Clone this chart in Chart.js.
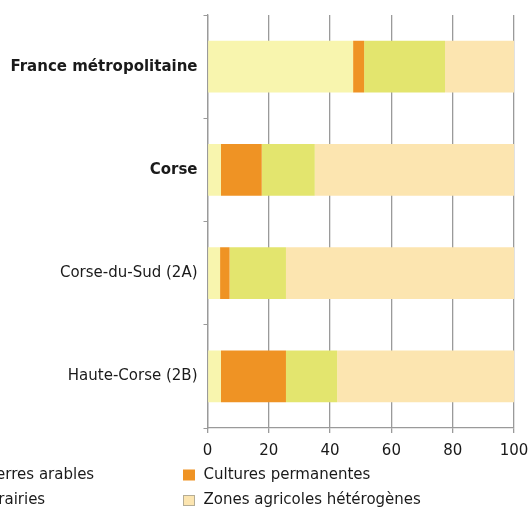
<!DOCTYPE html>
<html><head><meta charset="utf-8">
<script src="https://cdn.jsdelivr.net/npm/chart.js@4/dist/chart.umd.min.js"></script>
<style>html,body{margin:0;padding:0;background:#fff;}#wrap{width:529px;height:509px;position:relative;}</style>
</head><body><div id="wrap"><canvas id="c" width="529" height="509"></canvas></div>
<script>
const categories = ["France métropolitaine", "Corse", "Corse-du-Sud (2A)", "Haute-Corse (2B)"];
const boldCategories = ["France métropolitaine", "Corse"];
const terresArables = [47.5, 4.4, 4.1, 4.4];
const culturesPermanentes = [3.6, 13.3, 3.1, 21.2];
const prairies = [26.4, 17.3, 18.4, 16.7];
const zonesHeterogenes = [22.5, 65.0, 74.4, 57.7];
const xTicks = [0, 20, 40, 60, 80, 100];
const seriesNames = ["Terres arables", "Cultures permanentes", "Prairies", "Zones agricoles hétérogènes"];
const seriesColors = ["#f8f5ae", "#ef9324", "#e3e56e", "#fce5b0"];

const FONT = "'DejaVu Sans', 'Liberation Sans', Arial, sans-serif";

const legendPlugin = {
  id: 'customLegend',
  afterDraw(chart) {
    const ctx = chart.ctx;
    ctx.save();
    ctx.font = "15px " + FONT;
    ctx.textBaseline = 'middle';
    const cols = [-31, 183];
    const rows = [475, 500.5];
    const order = [[0,0,0],[1,1,0],[2,0,1],[3,1,1]];
    order.forEach(([i, c, r]) => {
      const x = cols[c], y = rows[r];
      ctx.fillStyle = seriesColors[i];
      ctx.fillRect(x, y - 5.5, 12, 11);
      if (i === 3) { ctx.strokeStyle = '#b5ad95'; ctx.lineWidth = 1; ctx.strokeRect(x + 0.5, y - 5, 11, 10); }
      ctx.fillStyle = '#1a1a1a';
      ctx.fillText(seriesNames[i], x + 20.5, y);
    });
    ctx.restore();
  }
};

const data = [terresArables, culturesPermanentes, prairies, zonesHeterogenes];
new Chart(document.getElementById('c'), {
  type: 'bar',
  data: {
    labels: categories,
    datasets: seriesNames.map((n, i) => ({
      label: n, data: data[i], backgroundColor: seriesColors[i], borderWidth: 0,
      barPercentage: 1.0, categoryPercentage: 0.5
    }))
  },
  options: {
    indexAxis: 'y',
    responsive: false,
    animation: false,
    layout: { padding: { left: 0, right: 0, top: 12, bottom: 46 } },
    plugins: { legend: { display: false }, tooltip: { enabled: false } },
    scales: {
      x: {
        stacked: true, min: 0, max: 100,
        afterBuildTicks(s) { s.ticks = xTicks.map(v => ({ value: v })); },
        afterFit(s) { s.height = 35; s.paddingRight = 15; s.paddingLeft = 5; },
        grid: { color: '#9a9a9a', lineWidth: 1.3, tickLength: 5, drawTicks: true },
        border: { color: '#9a9a9a', width: 1.3 },
        ticks: { color: '#1a1a1a', font: { family: FONT, size: 15 }, padding: 9, maxRotation: 0 }
      },
      y: {
        stacked: true,
        afterFit(s) { s.width = 207.5; },
        grid: { drawOnChartArea: false, drawTicks: true, tickLength: 4, color: '#9a9a9a', offset: true },
        border: { color: '#9a9a9a', width: 1.3 },
        ticks: {
          color: '#1a1a1a', padding: 6,
          font: (ctx) => ({ family: FONT, size: 15, weight: boldCategories.includes(categories[ctx.index]) ? 'bold' : 'normal' })
        }
      }
    }
  },
  plugins: [legendPlugin]
});
</script></body></html>
